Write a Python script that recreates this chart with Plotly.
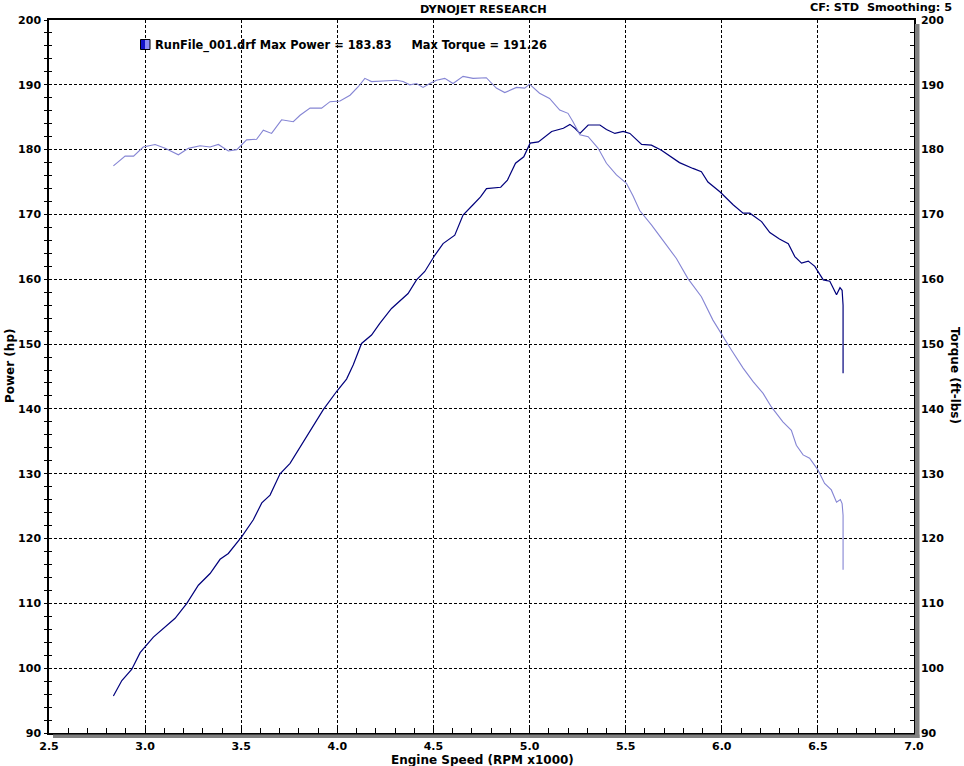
import plotly.graph_objects as go

# ---- data ----
power_rpm = [2.835, 2.879, 2.93, 2.974, 3.043, 3.095, 3.156, 3.217, 3.277, 3.338,
             3.39, 3.433, 3.503, 3.563, 3.607, 3.65, 3.702, 3.754, 3.806, 3.858,
             3.927, 3.999, 4.048, 4.083, 4.126, 4.178, 4.221, 4.282, 4.368, 4.412,
             4.455, 4.507, 4.55, 4.611, 4.654, 4.706, 4.745, 4.776, 4.85, 4.885,
             4.927, 4.97, 5.003, 5.046, 5.115, 5.176, 5.21, 5.236, 5.262, 5.305,
             5.366, 5.40, 5.444, 5.487, 5.522, 5.583, 5.634, 5.686, 5.73, 5.78,
             5.85, 5.894, 5.928, 5.99, 6.059, 6.111, 6.146, 6.207, 6.25, 6.3,
             6.346, 6.38, 6.415, 6.45, 6.484, 6.528, 6.562, 6.597, 6.615, 6.626,
             6.631, 6.631]
power_hp = [95.7, 98.1, 99.8, 102.4, 104.8, 106.1, 107.7, 110.0, 112.8, 114.6,
            116.8, 117.7, 120.3, 122.9, 125.5, 126.7, 130.0, 131.6, 134.1, 136.7,
            139.9, 142.8, 144.6, 146.8, 150.1, 151.4, 153.2, 155.5, 157.8, 159.9,
            161.2, 163.7, 165.5, 166.8, 169.9, 171.5, 172.7, 174.0, 174.2, 175.3,
            177.9, 178.9, 181.0, 181.2, 182.8, 183.3, 183.9, 183.3, 182.5, 183.8,
            183.8, 183.1, 182.5, 182.8, 182.5, 180.8, 180.7, 179.9, 179.0, 178.0,
            177.1, 176.6, 175.0, 173.5, 171.5, 170.2, 170.2, 168.9, 167.2, 166.2,
            165.5, 163.5, 162.5, 162.8, 162.0, 159.9, 159.7, 157.6, 158.7, 158.3,
            156.0, 145.5]

torque_rpm = [2.835, 2.896, 2.94, 2.99, 3.052, 3.104, 3.173, 3.225, 3.286, 3.338,
              3.381, 3.433, 3.477, 3.528, 3.58, 3.615, 3.658, 3.71, 3.771, 3.806,
              3.858, 3.918, 3.962, 4.014, 4.066, 4.109, 4.143, 4.178, 4.238, 4.307,
              4.342, 4.377, 4.412, 4.446, 4.481, 4.516, 4.559, 4.602, 4.654, 4.706,
              4.775, 4.827, 4.871, 4.932, 4.975, 5.0, 5.052, 5.104, 5.157, 5.2,
              5.226, 5.262, 5.305, 5.357, 5.40, 5.452, 5.504, 5.538, 5.573, 5.634,
              5.694, 5.764, 5.824, 5.894, 5.954, 6.006, 6.05, 6.111, 6.163, 6.215,
              6.258, 6.318, 6.362, 6.388, 6.423, 6.457, 6.5, 6.535, 6.57, 6.597,
              6.617, 6.626, 6.631, 6.631]
torque_ftlb = [177.5, 179.0, 179.0, 180.4, 180.8, 180.2, 179.2, 180.2, 180.6, 180.4,
               180.8, 179.8, 180.0, 181.5, 181.6, 183.0, 182.5, 184.6, 184.3, 185.3,
               186.4, 186.4, 187.4, 187.5, 188.4, 189.7, 191.0, 190.5, 190.6, 190.7,
               190.5, 190.0, 190.2, 189.6, 190.2, 190.7, 191.0, 190.2, 191.3, 191.0,
               191.1, 189.5, 188.8, 189.6, 189.5, 190.1, 188.7, 187.9, 186.1, 185.6,
               184.3, 182.3, 182.0, 180.2, 177.9, 176.1, 174.8, 172.9, 170.6, 168.4,
               166.0, 163.2, 160.1, 157.3, 153.7, 151.1, 149.1, 146.3, 144.2, 142.4,
               140.3, 138.0, 136.7, 134.4, 132.9, 132.4, 130.6, 128.5, 127.5, 125.6,
               126.0, 125.4, 123.6, 115.2]

x_ticks = [2.5, 3.0, 3.5, 4.0, 4.5, 5.0, 5.5, 6.0, 6.5, 7.0]
x_tick_labels = ["2.5", "3.0", "3.5", "4.0", "4.5", "5.0", "5.5", "6.0", "6.5", "7.0"]
y_ticks = [90, 100, 110, 120, 130, 140, 150, 160, 170, 180, 190, 200]

title_text = "DYNOJET RESEARCH"
info_text = "CF: STD\u00a0\u00a0Smoothing: 5"
legend_text = "RunFile_001.drf Max Power = 183.83\u00a0\u00a0\u00a0\u00a0\u00a0Max Torque = 191.26"

# ---- figure ----
FONT = "Verdana, DejaVu Sans, sans-serif"
W, H = 964, 766
L, R, T, B = 49, 50, 20, 33
PW, PH = W - L - R, H - T - B


def px(xp):
    return (xp - L) / PW


def py(yp):
    return (H - B - yp) / PH


fig = go.Figure()
fig.add_trace(go.Scatter(x=torque_rpm, y=torque_ftlb, mode="lines", yaxis="y2",
                         line=dict(color="#8585d4", width=1.1), showlegend=False,
                         hoverinfo="skip"))
fig.add_trace(go.Scatter(x=power_rpm, y=power_hp, mode="lines", yaxis="y",
                         line=dict(color="#00007c", width=1.2), showlegend=False,
                         hoverinfo="skip"))
# helper trace so the inner left tick axis is drawn
fig.add_trace(go.Scatter(x=[2.5], y=[90], mode="markers", yaxis="y3",
                         marker=dict(size=1, opacity=0), showlegend=False,
                         hoverinfo="skip"))

tickfont = dict(family=FONT, size=11, color="black", weight="bold")
grid = dict(showgrid=True, gridcolor="black", gridwidth=1, griddash="3px,2px")

fig.update_layout(
    width=W, height=H,
    margin=dict(l=L, r=R, t=T, b=B, pad=0),
    paper_bgcolor="white", plot_bgcolor="white",
    showlegend=False,
    xaxis=dict(range=[2.5, 7.0], tickvals=x_ticks, ticktext=x_tick_labels,
               ticks="inside", ticklen=5, tickcolor="black", tickwidth=1,
               minor=dict(dtick=0.1, tick0=2.5, ticks="inside", ticklen=5,
                          tickcolor="black", showgrid=False),
               showline=True, linecolor="black", linewidth=1.5, mirror=True,
               tickfont=tickfont, zeroline=False, ticklabelstandoff=2, **grid),
    yaxis=dict(range=[90, 200], tickvals=y_ticks, ticks="outside", ticklen=3,
               tickcolor="black", tickwidth=1,
               minor=dict(dtick=2, tick0=90, ticks="outside", ticklen=3,
                          tickcolor="black", showgrid=False),
               showline=True, linecolor="black", linewidth=1.5,
               tickfont=tickfont, zeroline=False, ticklabelstandoff=1, **grid),
    yaxis2=dict(range=[90, 200], overlaying="y", side="right", tickvals=y_ticks,
                ticks="inside", ticklen=4, tickcolor="black", tickwidth=1,
                minor=dict(dtick=2, tick0=90, ticks="inside", ticklen=4,
                           tickcolor="black", showgrid=False),
                showline=True, linecolor="black", linewidth=1.5, showgrid=False,
                tickfont=tickfont, zeroline=False, ticklabelstandoff=3),
    yaxis3=dict(range=[90, 200], overlaying="y", side="left", tickvals=y_ticks,
                ticks="inside", ticklen=3, tickcolor="black", tickwidth=1,
                minor=dict(dtick=2, tick0=90, ticks="inside", ticklen=3,
                           tickcolor="black", showgrid=False),
                showline=False, showgrid=False, showticklabels=False,
                zeroline=False),
)


def af(size):
    return dict(family=FONT, size=size, color="black", weight="bold")


annotations = [
    dict(text=title_text, x=px(483), y=py(10), xanchor="center", yanchor="middle",
         font=af(11.3)),
    dict(text=info_text, x=px(954), y=py(8), xanchor="right", yanchor="middle",
         font=af(11.3)),
    dict(text="Engine Speed (RPM x1000)", x=px(482), y=py(760), xanchor="center",
         yanchor="middle", font=af(12)),
    dict(text="Power (hp)", x=px(10), y=py(366), xanchor="center", yanchor="middle",
         textangle=-90, font=af(12)),
    dict(text="Torque (ft-lbs)", x=px(955), y=py(375), xanchor="center",
         yanchor="middle", textangle=90, font=af(12)),
    dict(text=legend_text, x=px(153), y=py(45), xanchor="left", yanchor="middle",
         font=af(11.4)),
]
for a in annotations:
    a.update(xref="paper", yref="paper", showarrow=False)
fig.update_layout(annotations=annotations)

shapes = [
    # shadow on right and bottom of plot frame
    dict(type="rect", x0=px(915), x1=px(919.5), y0=py(738), y1=py(24),
         fillcolor="#808080", line=dict(width=0)),
    dict(type="rect", x0=px(53), x1=px(919.5), y0=py(738), y1=py(734.5),
         fillcolor="#808080", line=dict(width=0)),
    # legend swatch
    dict(type="rect", x0=px(140.5), x1=px(145), y0=py(49.5), y1=py(39.5),
         fillcolor="#1212c8", line=dict(width=0)),
    dict(type="rect", x0=px(145), x1=px(150), y0=py(49.5), y1=py(39.5),
         fillcolor="#8c8cf4", line=dict(width=0)),
    dict(type="rect", x0=px(140.5), x1=px(150), y0=py(49.5), y1=py(39.5),
         fillcolor="rgba(0,0,0,0)", line=dict(color="black", width=1)),
]
for s in shapes:
    s.update(xref="paper", yref="paper", layer="above")
fig.update_layout(shapes=shapes)

fig.write_html(
    "out.html",
    config={"displayModeBar": False},
    post_script="document.body.style.margin='0';document.body.style.overflow='hidden';",
)
